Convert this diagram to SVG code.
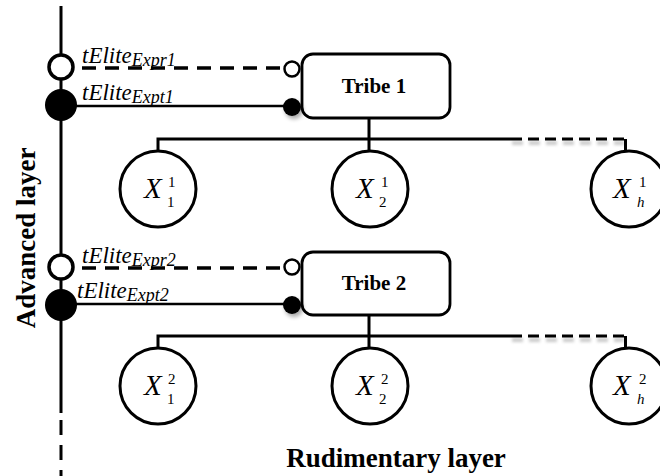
<svg xmlns="http://www.w3.org/2000/svg" width="660" height="476" viewBox="0 0 660 476">
<style>
.ln{stroke:#000;stroke-width:3;fill:none}
.thin{stroke:#000;stroke-width:2.5;fill:none}
.dash{stroke:#000;stroke-width:3.5;fill:none;stroke-dasharray:14 9}
.tail{stroke:#000;stroke-width:3;fill:none;stroke-dasharray:11 6}
.tailsh{stroke:#999;stroke-width:4;fill:none;stroke-dasharray:11 6;opacity:0.5}
.box{fill:#fff;stroke:#000;stroke-width:2.8}
.node{fill:#fff;stroke:#000;stroke-width:3}
.port-o{fill:#fff;stroke:#000;stroke-width:3.5}
.port-f{fill:#000}
.sport-o{fill:#fff;stroke:#000;stroke-width:2.5}
.lbl{font-family:"Liberation Serif",serif;font-style:italic;font-size:23px;fill:#000}
.sub{font-size:18px}
.xl{font-family:"Liberation Serif",serif;font-style:italic;font-size:29px;fill:#000}
.idx{font-family:"Liberation Serif",serif;font-size:15px;fill:#000}
.tribe{font-family:"Liberation Serif",serif;font-weight:bold;font-size:21px;fill:#000;text-anchor:middle}
.layer{font-family:"Liberation Serif",serif;font-weight:bold;font-size:27px;fill:#000;text-anchor:middle}
</style>
<defs>
<filter id="sh" x="-50%" y="-50%" width="200%" height="200%">
<feGaussianBlur in="SourceAlpha" stdDeviation="2"/>
<feOffset dx="2" dy="3" result="b"/>
<feComponentTransfer><feFuncA type="linear" slope="0.35"/></feComponentTransfer>
<feMerge><feMergeNode/><feMergeNode in="SourceGraphic"/></feMerge>
</filter>
<filter id="blur" filterUnits="userSpaceOnUse" x="0" y="0" width="660" height="476">
<feGaussianBlur stdDeviation="1.5"/>
</filter>
</defs>

<g id="connectors">
<line class="ln" x1="61" y1="6" x2="61" y2="413"/>
<line class="ln" x1="61" y1="420" x2="61" y2="476" stroke-dasharray="15 10"/>
<line class="dash" x1="82" y1="68" x2="286" y2="68"/>
<line class="thin" x1="61" y1="106" x2="292" y2="106"/>
<line class="dash" x1="82" y1="268" x2="286" y2="268"/>
<line class="thin" x1="61" y1="304" x2="292" y2="304"/>
<path class="ln" d="M369 118V139M158 151V139H511M369 139V151"/>
<path class="tailsh" d="M512 143H624" filter="url(#blur)"/>
<path class="tail" d="M511 139H624"/>
<path class="ln" d="M625.5 139V151"/>
<path class="ln" d="M369 315V336M158 348V336H511M369 336V348"/>
<path class="tailsh" d="M512 340H624" filter="url(#blur)"/>
<path class="tail" d="M511 336H624"/>
<path class="ln" d="M625.5 336V348"/>
</g>

<g id="advanced-port-1">
<circle class="port-o" cx="61" cy="67" r="12"/>
<circle class="port-f" cx="61" cy="105" r="16"/>
<text class="lbl" x="82" y="63">tElite<tspan class="sub" dy="3">Expr1</tspan></text>
<text class="lbl" x="82" y="100">tElite<tspan class="sub" dy="3">Expt1</tspan></text>
</g>
<g id="advanced-port-2">
<circle class="port-o" cx="61" cy="267" r="12"/>
<circle class="port-f" cx="61" cy="305" r="16"/>
<text class="lbl" x="82" y="263">tElite<tspan class="sub" dy="3">Expr2</tspan></text>
<text class="lbl" x="77" y="298">tElite<tspan class="sub" dy="3">Expt2</tspan></text>
</g>

<g id="tribe1">
<rect class="box" x="302" y="54" width="148" height="64" rx="11"/>
<circle class="sport-o" cx="292" cy="69" r="7.5"/>
<circle class="port-f" cx="292" cy="107" r="9" filter="url(#sh)"/>
<text class="tribe" x="374" y="93">Tribe 1</text>
</g>
<g id="tribe2">
<rect class="box" x="302" y="252" width="148" height="63" rx="11"/>
<circle class="sport-o" cx="292" cy="267" r="7.5"/>
<circle class="port-f" cx="292" cy="305" r="9" filter="url(#sh)"/>
<text class="tribe" x="374" y="290">Tribe 2</text>
</g>

<g id="x11">
<circle class="node" cx="158" cy="189" r="38"/>
<text class="xl" x="144" y="198">X</text>
<text class="idx" x="168" y="187">1</text><text class="idx" x="167" y="207">1</text>
</g>
<g id="x12">
<circle class="node" cx="370" cy="189" r="38"/>
<text class="xl" x="356" y="198">X</text>
<text class="idx" x="381" y="187">1</text><text class="idx" x="379" y="207">2</text>
</g>
<g id="x1h">
<circle class="node" cx="629" cy="189" r="38"/>
<text class="xl" x="613" y="198">X</text>
<text class="idx" x="639" y="187">1</text><text class="idx" x="637" y="207" font-style="italic">h</text>
</g>

<g id="x21">
<circle class="node" cx="158" cy="386" r="38"/>
<text class="xl" x="144" y="395">X</text>
<text class="idx" x="168" y="384">2</text><text class="idx" x="167" y="404">1</text>
</g>
<g id="x22">
<circle class="node" cx="370" cy="386" r="38"/>
<text class="xl" x="356" y="395">X</text>
<text class="idx" x="381" y="384">2</text><text class="idx" x="379" y="404">2</text>
</g>
<g id="x2h">
<circle class="node" cx="629" cy="386" r="38"/>
<text class="xl" x="613" y="395">X</text>
<text class="idx" x="639" y="384">2</text><text class="idx" x="637" y="404" font-style="italic">h</text>
</g>

<text class="layer" transform="translate(35 238) rotate(-90)" font-size="26">Advanced layer</text>
<text class="layer" x="396" y="467" font-size="29">Rudimentary layer</text>
</svg>
